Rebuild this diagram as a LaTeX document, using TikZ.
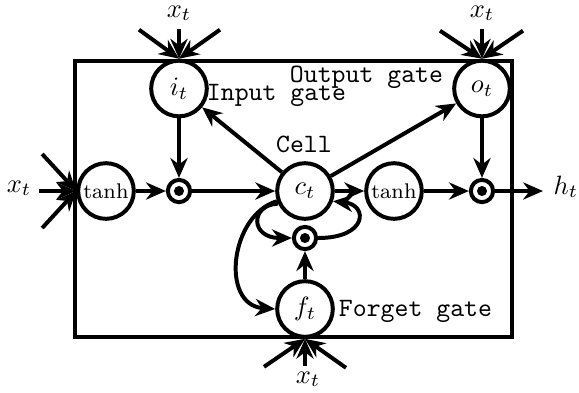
\documentclass[tikz,border=0pt]{standalone}
\usetikzlibrary{arrows.meta}
\begin{document}
\begin{tikzpicture}[x=0.3774pt,y=-0.3774pt,
  line width=1.5pt,
  arr/.style={-{Stealth[length=7.5pt,width=6.5pt]}},
  gate/.style={circle,draw,fill=white,minimum size=21pt,inner sep=0pt},
  prodnode/.style={circle,draw,fill=white,minimum size=8.4pt,inner sep=0pt,
    path picture={\fill[black] (path picture bounding box.center) circle[radius=1.9pt];}},
  lbl/.style={font=\ttfamily,anchor=base,inner sep=0pt},
  mlbl/.style={anchor=base,inner sep=0pt},
]
\useasboundingbox (0,0) rectangle (579,392);
\draw (75,61) rectangle (512,337);
% nodes
\node[gate] (i) at (179,88.5) {$i_t$};
\node[gate] (o) at (482,88.5) {$o_t$};
\node[gate] (tl) at (106,191) {\footnotesize tanh};
\node[prodnode] (p1) at (179,191) {};
\node[gate] (c) at (305,191) {$c_t$};
\node[gate] (tr) at (394,191) {\footnotesize tanh};
\node[prodnode] (p2) at (482,191) {};
\node[prodnode] (p3) at (305,238) {};
\node[gate] (f) at (305,309) {$f_t$};
% labels
\node[lbl] (li) at (276.5,100) {Input gate};
\node[lbl] (lo) at (366.5,82) {Output gate};
\node[lbl] (lc) at (304,152) {Cell};
\node[lbl] (lf) at (415.5,316) {Forget gate};
\node[mlbl] (xi) at (179,17) {$x_t$};
\node[mlbl] (xo) at (482,17) {$x_t$};
\node[mlbl] (xl) at (19,192) {$x_t$};
\node[mlbl] (xf) at (308,383) {$x_t$};
\coordinate (hout) at (543,191);
\node[mlbl] (h) at (566,194) {$h_t$};
% main connectors
\draw[arr] (tl) -- (p1);
\draw[arr] (i) -- (p1);
\draw[arr] (p1) -- (c);
\draw[arr] (c) -- (i);
\draw[arr] (c) -- (o);
\draw[arr] (o) -- (p2);
\draw[arr] (c) -- (tr);
\draw[arr] (tr) -- (p2);
\draw[arr] (p2) -- (hout);
\draw[arr] (f) -- (p3);
% loops
\draw[arr] (c.205) .. controls (250,205) and (250,238) .. (p3.west);
\draw[arr] (p3.east) .. controls (368,238) and (368,205) .. (c.-20);
\draw[arr] (c.200) .. controls (230,215) and (220,305) .. (f.west);
% inputs
\foreach \n/\dx/\dy in {i/-40/-29, i/0/-30, i/41/-29, o/-42/-28, o/0/-30, o/41/-28}
  \draw[arr] ([shift={(\dx,\dy)}]\n.north) -- (\n.north);
\foreach \dx/\dy in {-34/-37, -37/0, -34/37}
  \draw[arr] ([shift={(\dx,\dy)}]tl.west) -- (tl.west);
\foreach \dx/\dy in {-41/28, 0/27, 41/29}
  \draw[arr] ([shift={(\dx,\dy)}]f.south) -- (f.south);
\end{tikzpicture}
\end{document}
